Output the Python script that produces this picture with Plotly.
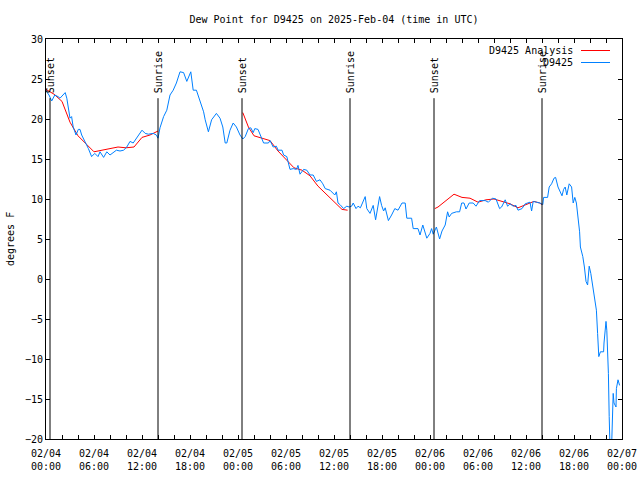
import pandas as pd
import plotly.graph_objects as go

START = pd.Timestamp("2025-02-04 00:00")

# Analysis (red) - three segments, hours after 02/04 00:00 UTC, None = gap
analysis_hours = [0.0, 1.0, 2.0, 3.0, 4.0, 5.0, 6.0, 7.0, 8.0, 9.0, 10.0, 11.0, 12.0, 13.0, 14.0,
                  None,
                  24.6, 25.3, 26.0, 27.0, 28.0, 29.0, 30.0, 31.0, 32.0, 33.0, 34.0, 35.0, 36.0, 37.0, 37.7,
                  None,
                  48.6, 49.0, 50.0, 51.0, 52.0, 53.0, 54.0, 55.0, 56.0, 57.0, 58.0, 59.0, 60.0, 61.0, 61.7, 62.0]
analysis_values = [23.7, 23.1, 22.2, 19.6, 17.9, 16.9, 15.9, 16.1, 16.3, 16.5, 16.4, 16.5, 17.7, 18.0, 18.5,
                   None,
                   20.8, 19.0, 17.9, 17.6, 17.3, 16.0, 14.9, 13.9, 13.6, 12.9, 11.6, 10.6, 9.6, 8.7, 8.6,
                   None,
                   8.8, 9.0, 9.8, 10.6, 10.2, 10.1, 9.6, 9.9, 10.0, 9.7, 9.4, 8.9, 9.3, 9.7, 9.5, 9.3]

# Observations (blue)
obs_hours = [0.0, 0.375, 0.71, 1.1, 1.5, 1.75, 2.4, 2.6, 3.0, 3.2, 3.4, 3.75, 4.04, 4.25, 4.46, 4.9, 5.3,
             5.7, 6.1, 6.5, 6.75, 7.2, 7.6, 8.0, 8.4, 8.8, 9.25, 9.7, 10.1, 10.5, 10.9, 11.3, 12.0, 12.4,
             12.8, 13.4, 13.8, 14.0, 14.25, 14.7, 15.1, 15.5, 15.9, 16.3, 16.75, 17.2, 17.6, 18.1, 18.4,
             18.8, 19.25, 19.7, 19.9, 20.3, 20.7, 21.3, 21.75, 22.1, 22.4, 22.6, 23.0, 23.4, 23.8, 24.25,
             24.6, 24.9, 25.3, 25.6, 25.9, 26.1, 26.5, 26.95, 27.2, 27.8, 28.0, 28.4, 28.8, 29.0, 29.5,
             29.7, 30.1, 30.5, 30.9, 31.3, 31.5, 31.75, 32.2, 32.6, 33.0, 33.4, 33.8, 34.25, 34.6, 34.9,
             35.5, 36.1, 36.3, 36.5, 36.75, 37.2, 37.6, 37.9, 38.2, 38.4, 38.75, 39.0, 39.3, 39.9, 40.1,
             40.5, 40.9, 41.2, 41.4, 41.7, 41.95, 42.2, 42.4, 42.8, 43.2, 43.6, 44.0, 44.5, 44.9, 45.1,
             45.7, 45.9, 46.5, 46.75, 47.1, 47.4, 47.6, 48.0, 48.2, 48.4, 48.8, 49.2, 49.5, 49.9, 50.2,
             50.4, 50.7, 51.3, 51.7, 51.96, 52.25, 52.5, 52.9, 53.4, 53.75, 54.2, 54.9, 55.3, 55.8, 56.25,
             56.7, 56.95, 57.4, 57.7, 58.0, 58.4, 58.75, 59.0, 59.5, 59.9, 60.3, 60.5, 60.7, 60.9, 61.3,
             61.75, 62.1, 62.2, 62.7, 62.9, 63.2, 63.5, 63.7, 64.0, 64.5, 64.7, 64.9, 65.1, 65.4, 65.7,
             65.9, 66.1, 66.3, 66.5, 66.7, 66.8, 67.1, 67.3, 67.5, 67.7, 67.8, 67.9, 68.1, 68.2, 68.4,
             68.6, 68.8, 68.95, 69.1, 69.3, 69.7, 69.75, 69.9, 70.0, 70.1, 70.2, 70.3, 70.4, 70.5, 70.7,
             70.8, 70.9, 71.0, 71.25, 71.3, 71.5, 71.7]
obs_values = [23.5, 23.0, 22.25, 23.0, 22.8, 22.6, 23.3, 22.6, 20.1, 20.3, 19.0, 18.0, 18.7, 18.7, 18.0, 17.2, 16.3,
              15.3, 15.7, 15.3, 15.9, 15.2, 15.9, 15.5, 15.8, 16.1, 16.0, 16.1, 16.5, 17.2, 17.0, 17.6, 18.6, 18.2,
              18.1, 18.2, 18.0, 17.6, 18.9, 20.3, 21.1, 23.0, 23.6, 24.5, 25.9, 25.8, 24.7, 25.9, 23.6,
              23.6, 22.2, 20.9, 19.9, 18.4, 19.9, 20.7, 20.1, 19.0, 17.0, 17.0, 18.6, 19.5, 19.0, 18.0,
              17.5, 17.8, 18.8, 18.9, 18.3, 18.8, 18.7, 17.5, 17.0, 17.0, 17.3, 16.5, 16.6, 16.1, 16.1,
              15.5, 15.3, 13.7, 13.8, 13.7, 14.2, 13.1, 13.7, 13.6, 13.0, 13.0, 12.2, 12.4, 11.9, 11.3,
              11.1, 10.5, 10.9, 9.5, 9.3, 8.8, 9.1, 9.0, 9.1, 9.5, 8.8, 9.1, 8.9, 10.3, 8.8,
              8.2, 9.2, 7.4, 8.6, 10.3, 9.2, 8.5, 8.9, 7.3, 8.0, 8.8, 8.6, 9.5, 9.5, 7.6,
              7.6, 6.3, 6.3, 5.5, 6.75, 5.9, 5.1, 5.7, 6.3, 5.6, 6.5, 5.0, 6.0, 6.75, 8.4,
              7.75, 8.2, 8.4, 8.4, 9.5, 9.5, 8.75, 9.5, 9.5, 9.1, 9.8, 9.8, 9.6, 10.1, 10.0,
              8.8, 9.0, 9.9, 9.1, 9.4, 9.1, 9.2, 8.6, 8.8, 9.4, 9.6, 9.6, 8.5, 9.7, 9.6,
              9.5, 9.3, 10.2, 10.2, 11.5, 11.9, 12.6, 12.7, 11.5, 10.4, 11.2, 11.5, 10.5, 11.9, 11.5,
              9.5, 10.2, 9.5, 7.8, 5.9, 4.0, 2.8, 1.5, -0.3, -0.75, 0.7, 1.6, 0.7, 0.0, -0.75,
              -2.4, -3.9, -6.8, -9.7, -9.1, -9.1, -8.0, -6.4, -5.3, -6.4, -8.25, -11.8, -17.2, -21.0, -21.0,
              -17.2, -14.3, -15.5, -16.0, -13.7, -12.6, -13.3]

event_hours = [0.5, 14.0, 24.5, 38.0, 48.5, 62.0]
event_labels = ["Sunset", "Sunrise", "Sunset", "Sunrise", "Sunset", "Sunrise"]
event_top = 22.6

y_ticks = [-20, -15, -10, -5, 0, 5, 10, 15, 20, 25, 30]

FONT = "DejaVu Sans Mono"
W, H = 576.0, 400.0


def to_time(hours):
    return [None if h is None else START + pd.Timedelta(hours=h) for h in hours]


fig = go.Figure()
fig.add_trace(go.Scatter(x=to_time(analysis_hours), y=analysis_values, mode="lines",
                         line=dict(color="#ff0000", width=1), name="D9425 Analysis",
                         connectgaps=False, showlegend=False))
fig.add_trace(go.Scatter(x=to_time(obs_hours), y=obs_values, mode="lines",
                         line=dict(color="#0080ff", width=1), name="D9425", showlegend=False))

for h, lab in zip(event_hours, event_labels):
    t = START + pd.Timedelta(hours=h)
    fig.add_shape(type="line", xref="x", yref="y", x0=t, x1=t, y0=-20, y1=event_top,
                  line=dict(color="black", width=1))
    fig.add_annotation(x=t, y=event_top, xref="x", yref="y", text=lab, textangle=-90,
                       showarrow=False, xanchor="center", yanchor="bottom", yshift=3,
                       font=dict(family=FONT, size=10, color="black"))

# manual gnuplot-style legend (text right-aligned, sample to the right)
legend_items = [("D9425 Analysis", "#ff0000", 50.5), ("D9425", "#0080ff", 62.5)]
for text, col, py in legend_items:
    yp = (439 - py) / H
    fig.add_annotation(x=(575 - 46) / W, y=yp, xref="paper", yref="paper", text=text,
                       showarrow=False, xanchor="right", yanchor="middle",
                       font=dict(family=FONT, size=10, color="black"))
    fig.add_shape(type="line", xref="paper", yref="paper", x0=(581 - 46) / W, x1=(610 - 46) / W,
                  y0=yp, y1=yp, line=dict(color=col, width=1))

# y axis title
fig.add_annotation(x=(10 - 46) / W, y=0.5, xref="paper", yref="paper", text="degrees F",
                   textangle=-90, showarrow=False, xanchor="center", yanchor="middle",
                   font=dict(family=FONT, size=10, color="black"))

fig.update_layout(
    width=640, height=480,
    margin=dict(l=46, r=18, t=39, b=41, autoexpand=False),
    paper_bgcolor="white", plot_bgcolor="white",
    font=dict(family=FONT, size=10, color="black"),
    title=dict(text="Dew Point for D9425 on 2025-Feb-04 (time in UTC)", x=0.5, xref="paper",
               y=1 - 19 / 480, yanchor="middle", font=dict(family=FONT, size=10, color="black")),
    showlegend=False,
)
fig.update_xaxes(
    type="date", range=[START, START + pd.Timedelta(hours=72)], automargin=False,
    tick0=START, dtick=6 * 3600 * 1000, tickformat="%m/%d<br>%H:%M",
    ticks="inside", ticklen=4, tickcolor="black", showline=True, linecolor="black", linewidth=1,
    mirror="ticks", showgrid=False, zeroline=False, ticklabelstandoff=5,
    minor=dict(dtick=2 * 3600 * 1000, ticks="inside", ticklen=4, tickcolor="black", showgrid=False),
    tickfont=dict(family=FONT, size=10, color="black"),
)
fig.update_yaxes(
    range=[-20, 30], tickvals=y_ticks, ticks="inside", ticklen=4, tickcolor="black", automargin=False,
    showline=True, linecolor="black", linewidth=1, mirror="ticks", showgrid=False, zeroline=False,
    tickfont=dict(family=FONT, size=10, color="black"),
)

fig.write_html("out.html", config={"displayModeBar": False},
               post_script="document.body.style.margin='0';")
